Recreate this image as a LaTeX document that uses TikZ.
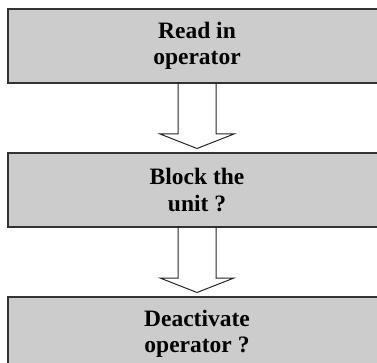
\documentclass[tikz,border=0pt]{standalone}
\usepackage{fontspec}
\setmainfont{Liberation Serif}
\usetikzlibrary{positioning,calc}
\definecolor{boxgray}{gray}{0.8}

\begin{document}
\begin{tikzpicture}
  [x=1pt,y=1pt,
   stepN/.style={rectangle,draw=black!80,fill=boxgray,line width=1.4pt,
                 outer sep=0pt,minimum width=378pt,minimum height=74pt,align=center,
                 font=\fontsize{23.5}{26.5}\selectfont\bfseries},
   hollowarrow/.style={draw=black!85,line width=1pt,line join=miter,
     to path={($(\tikztostart)+(-19pt,0)$) -- ++(0,-51pt) -- ++(-18pt,0)
       -- ($(\tikztotarget)+(0,4.5pt)$) -- ($(\tikztostart)+(37pt,-51pt)$)
       -- ++(-18pt,0) -- ($(\tikztostart)+(19pt,0)$)}},
   node distance=70pt]

  \useasboundingbox (0,0) rectangle (377,-363);
  \clip (0,0) rectangle (377,-363);

  \node[stepN] (read) at (197,-46) {Read in\\operator};
  \node[stepN] (block) [below=of read] {Block the\\unit ?};
  \node[stepN] (deact) [below=of block] {Deactivate\\operator ?};

  \draw[hollowarrow] (read.south) to (block.north);
  \draw[hollowarrow] (block.south) to (deact.north);

\end{tikzpicture}
\end{document}
